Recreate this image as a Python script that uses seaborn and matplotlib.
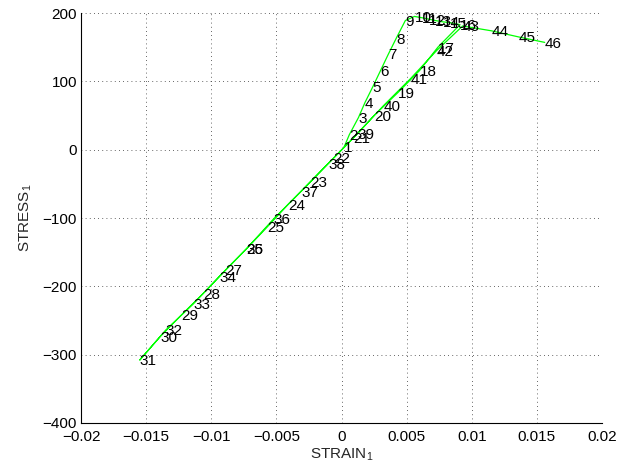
import matplotlib
matplotlib.use("Agg")
import matplotlib.pyplot as plt
import seaborn as sns
import pandas as pd

# Load path: strain / stress pairs at each numbered step
strain = [0.0002, 0.0006, 0.0013, 0.0018, 0.0024, 0.0030, 0.0036, 0.0042, 0.0049,
          0.0056, 0.0062, 0.0067, 0.0072, 0.0078, 0.0083, 0.0091,
          0.0074, 0.0060, 0.0043, 0.0025, 0.0009, -0.0006, -0.0024, -0.0041,
          -0.0057, -0.0073, -0.0089, -0.0106, -0.0123, -0.0139, -0.0155,
          -0.0135, -0.0114, -0.0094, -0.0073, -0.0052, -0.0031, -0.0010,
          0.0012, 0.0032, 0.0053, 0.0073, 0.0093, 0.0115, 0.0136, 0.0156]
stress = [4, 22, 47, 69, 92, 116, 140, 163, 189,
          195, 193, 191, 189, 187, 186, 183,
          150, 116, 83, 50, 17, -12, -47, -80,
          -113, -145, -176, -210, -242, -273, -308,
          -264, -226, -186, -145, -101, -61, -20,
          23, 64, 104, 145, 181, 174, 165, 157]
steps = list(range(1, len(strain) + 1))

x_ticks = [-0.02, -0.015, -0.01, -0.005, 0, 0.005, 0.01, 0.015, 0.02]
x_tick_labels = ["\u22120.02", "\u22120.015", "\u22120.01", "\u22120.005", "0",
                 "0.005", "0.01", "0.015", "0.02"]
y_ticks = [-400, -300, -200, -100, 0, 100, 200]
y_tick_labels = ["\u2212400", "\u2212300", "\u2212200", "\u2212100", "0", "100", "200"]

df = pd.DataFrame({"strain": strain, "stress": stress, "step": steps})

sns.set_style("white")
plt.rcParams["font.family"] = ["Liberation Sans", "DejaVu Sans"]
plt.rcParams["mathtext.fontset"] = "custom"
plt.rcParams["mathtext.rm"] = "Liberation Sans"
plt.rcParams["mathtext.it"] = "Liberation Sans"

fig = plt.figure(figsize=(6.19, 4.75), dpi=100)
ax = fig.add_axes([0.131, 0.1095, 0.8415, 0.8631])

sns.lineplot(data=df, x="strain", y="stress", sort=False, estimator=None,
             color="#00ff00", linewidth=0.9, ax=ax)

for xv, yv, s in zip(strain, stress, steps):
    ax.text(xv, yv - 2, str(s), ha="left", va="center", fontsize=11, color="black")

ax.set_xlim(-0.02, 0.02)
ax.set_ylim(-400, 200)
ax.set_xticks(x_ticks)
ax.set_xticklabels(x_tick_labels)
ax.set_yticks(y_ticks)
ax.set_yticklabels(y_tick_labels)

ax.grid(True, color="#333333", linestyle=(0, (1, 4)), linewidth=0.6)
ax.tick_params(direction="in", length=4, width=0.7, labelsize=11, colors="black")
ax.tick_params(axis="x", pad=5)
ax.tick_params(axis="y", pad=3)
for side in ("top", "right"):
    ax.spines[side].set_visible(False)
for side in ("left", "bottom"):
    ax.spines[side].set_color("black")
    ax.spines[side].set_linewidth(0.8)

ax.set_xlabel("STRAIN$_1$", fontsize=11, labelpad=2)
ax.set_ylabel("STRESS$_1$", fontsize=11, labelpad=6)

fig.savefig("out.png", dpi=100)
